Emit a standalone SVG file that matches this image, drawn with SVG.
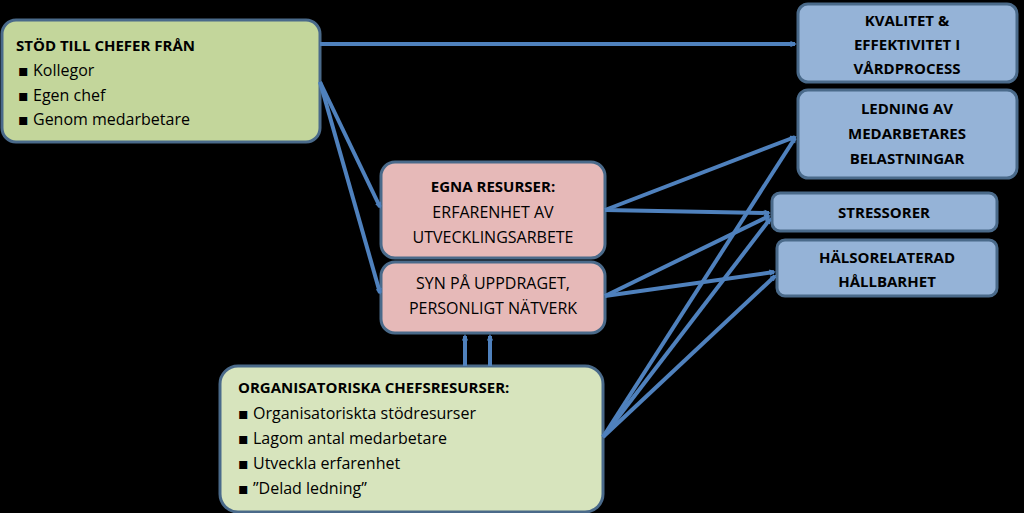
<svg xmlns="http://www.w3.org/2000/svg" width="1024" height="513" viewBox="0 0 1024 513">
<defs>
<marker id="a" viewBox="0 0 10 10" refX="9" refY="5" markerWidth="5" markerHeight="5" orient="auto" markerUnits="userSpaceOnUse" style="overflow:visible"><path d="M0,0 L10,5 L0,10" fill="none" stroke="#4f81bd" stroke-width="2.5"/></marker>
<style>
.g{fill:#c3d69b;stroke:#4a6a8a;stroke-width:3}
.lg{fill:#d7e4bd;stroke:#4a6a8a;stroke-width:3}
.p{fill:#e6b9b8;stroke:#4a6a8a;stroke-width:3}
.b{fill:#95b3d7;stroke:#4a6a8a;stroke-width:3}
text{font-family:"Open Sans","DejaVu Sans",sans-serif;fill:#000}
.h{font-weight:bold;font-size:15px}
.t{font-size:16px}
.c{text-anchor:middle}
.l{stroke:#4f81bd;stroke-width:4;fill:none;marker-end:url(#a)}
</style>
</defs>
<rect width="1024" height="513" fill="#000"/>
<g id="stod"><rect class="g" x="2" y="20" width="318" height="122" rx="14"/>
<text class="h" x="16" y="51">STÖD TILL CHEFER FRÅN</text>
<text class="t" x="18" y="76">▪  Kollegor</text><text class="t" x="18" y="101">▪  Egen chef</text><text class="t" x="18" y="125">▪  Genom medarbetare</text></g>
<g id="egna"><rect class="p" x="381" y="162" width="224" height="96" rx="14"/>
<text class="h c" x="493" y="192">EGNA RESURSER:</text><text class="t c" x="493" y="218">ERFARENHET AV</text><text class="t c" x="493" y="243">UTVECKLINGSARBETE</text></g>
<g id="syn"><rect class="p" x="381" y="262" width="224" height="71" rx="14"/>
<text class="t c" x="493" y="289">SYN PÅ UPPDRAGET,</text><text class="t c" x="493" y="314">PERSONLIGT NÄTVERK</text></g>
<g id="org"><rect class="lg" x="220" y="366" width="383" height="146" rx="18"/>
<text class="h" x="238" y="393">ORGANISATORISKA CHEFSRESURSER:</text>
<text class="t" x="238" y="419">▪    Organisatoriskta stödresurser</text><text class="t" x="238" y="444">▪    Lagom antal medarbetare</text><text class="t" x="238" y="469">▪    Utveckla erfarenhet</text><text class="t" x="238" y="494">▪    ”Delad ledning”</text></g>
<g id="kval"><rect class="b" x="798" y="4" width="219" height="78" rx="10"/>
<text class="h c" x="907" y="26">KVALITET &amp;</text><text class="h c" x="907" y="50">EFFEKTIVITET I</text><text class="h c" x="907" y="74">VÅRDPROCESS</text></g>
<g id="led"><rect class="b" x="798" y="90" width="219" height="88" rx="10"/>
<text class="h c" x="907" y="114">LEDNING AV</text><text class="h c" x="907" y="139">MEDARBETARES</text><text class="h c" x="907" y="164">BELASTNINGAR</text></g>
<g id="stress"><rect class="b" x="772" y="193" width="225" height="38" rx="8"/>
<text class="h c" x="884" y="218">STRESSORER</text></g>
<g id="halsa"><rect class="b" x="777" y="240" width="220" height="56" rx="8"/>
<text class="h c" x="887" y="263">HÄLSORELATERAD</text><text class="h c" x="887" y="287">HÅLLBARHET</text></g>
<g id="connectors">
<path class="l" d="M320,44 L795,44"/>
<path class="l" d="M320,82 L380,207"/>
<path class="l" d="M320,82 L380,293"/>
<path class="l" d="M605,210 L795,137"/>
<path class="l" d="M605,210 L769,213"/>
<path class="l" d="M605,296 L769,216"/>
<path class="l" d="M605,296 L774,272"/>
<path class="l" d="M603,437 L795,138"/>
<path class="l" d="M603,437 L770,219"/>
<path class="l" d="M603,437 L775,276"/>
<path class="l" d="M465,366 L465,336"/>
<path class="l" d="M490,366 L490,336"/>
</g>
</svg>
